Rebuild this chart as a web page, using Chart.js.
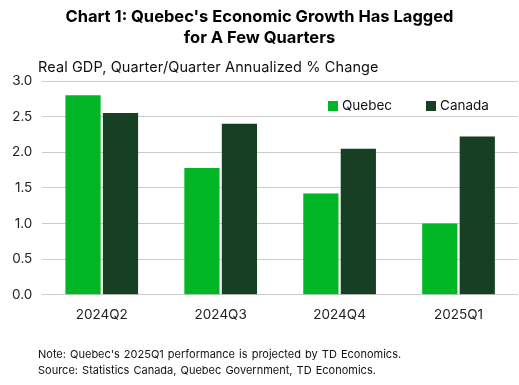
<!DOCTYPE html>
<html><head><meta charset="utf-8">
<script src="https://cdn.jsdelivr.net/npm/chart.js@4.4.0/dist/chart.umd.min.js"></script>
<style>
html,body{margin:0;padding:0;background:#fff;}
#wrap{position:relative;width:519px;height:385px;font-family:Inter, "Open Sans", sans-serif;color:#111;}
#c{position:absolute;left:0;top:0;}
.t{position:absolute;white-space:nowrap;}
#title{left:0;width:519px;top:6px;text-align:center;font-weight:bold;font-size:16.5px;line-height:21px;color:#000;}
#sub{left:38px;top:58px;font-size:14.5px;letter-spacing:0.1px;}
#leg{left:328px;top:97px;font-size:13.5px;}
.sw{display:inline-block;width:10px;height:10px;margin-right:4px;vertical-align:-1px;}
#note{left:38px;top:346px;font-size:11px;line-height:16px;word-spacing:1px;}
</style></head>
<body><div id="wrap">
<canvas id="c" width="519" height="385"></canvas>
<div class="t" id="title">Chart 1: Quebec's Economic Growth Has Lagged<br>for A Few Quarters</div>
<div class="t" id="sub">Real GDP, Quarter/Quarter Annualized % Change</div>
<div class="t" id="leg"></div>
<div class="t" id="note">Note: Quebec's 2025Q1 performance is projected by TD Economics.<br>Source: Statistics Canada, Quebec Government, TD Economics.</div>
</div>
<script>
const categories = ["2024Q2","2024Q3","2024Q4","2025Q1"];
const quebec = [2.80, 1.78, 1.42, 1.00];
const canada = [2.55, 2.40, 2.05, 2.22];
const seriesNames = ["Quebec","Canada"];
const colors = ["#00b624","#173f24"];

document.getElementById('leg').innerHTML =
  '<span class="sw" style="background:'+colors[0]+'"></span>'+seriesNames[0]+
  '<span style="display:inline-block;width:34px"></span>'+
  '<span class="sw" style="background:'+colors[1]+'"></span>'+seriesNames[1];

Chart.defaults.font.family = 'Inter, "Open Sans", sans-serif';
new Chart(document.getElementById('c'), {
  type: 'bar',
  data: {
    labels: categories,
    datasets: [
      {label: seriesNames[0], data: quebec, backgroundColor: colors[0], categoryPercentage: 0.63, barPercentage: 0.94},
      {label: seriesNames[1], data: canada, backgroundColor: colors[1], categoryPercentage: 0.63, barPercentage: 0.94}
    ]
  },
  options: {
    responsive: false,
    animation: false,
    layout: {padding: {top: 81, left: 2, right: 1, bottom: 50}},
    plugins: {legend: {display: false}, tooltip: {enabled: false}},
    scales: {
      x: {
        grid: {display: false, drawTicks: false},
        border: {display: false},
        ticks: {color: '#222', font: {size: 13.5}, padding: 12}
      },
      y: {
        min: 0, max: 3,
        grid: {color: '#cccccc', drawTicks: false, lineWidth: 1},
        border: {display: false},
        ticks: {stepSize: 0.5, color: '#222', font: {size: 13.5}, padding: 10,
                callback: v => v.toFixed(1)}
      }
    }
  }
});
</script>
</body></html>
